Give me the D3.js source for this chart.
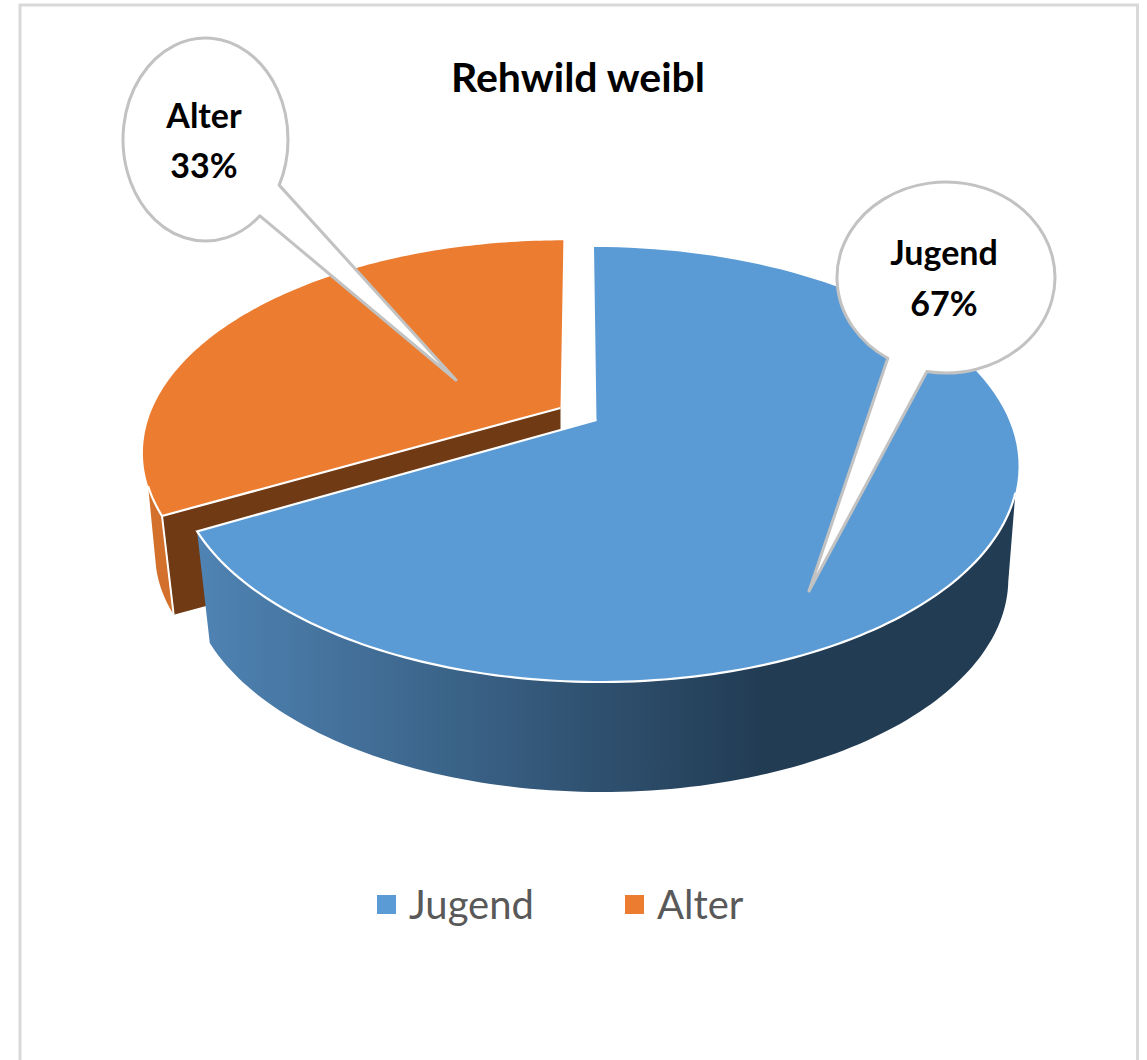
<!DOCTYPE html>
<html><head><meta charset="utf-8">
<script src="https://cdnjs.cloudflare.com/ajax/libs/d3/7.8.5/d3.min.js"></script>
<style>html,body{margin:0;padding:0;background:#fff}svg{display:block}text{font-family:Lato,"Noto Sans",sans-serif}</style>
</head><body><div id="c"></div>
<script>
const categories = ["Jugend", "Alter"];
const values = [67, 33];
const labels = ["67%", "33%"];
const colors = ["#5b9bd5", "#eb7c30"];
const title = "Rehwild weibl";

const W = 1147, H = 1060;
const svg = d3.select("#c").append("svg").attr("width", W).attr("height", H);
const defs = svg.append("defs");
const color = d3.scaleOrdinal().domain(categories).range(colors);

svg.append("path").attr("d", `M20,${H} V5 H1137.5 V${H}`).attr("fill", "none").attr("stroke", "#d9d9d9").attr("stroke-width", 3);

const wallGrad = defs.append("linearGradient").attr("id", "wallBlue").attr("gradientUnits", "userSpaceOnUse")
  .attr("x1", 200).attr("x2", 760).attr("y1", 0).attr("y2", 0);
wallGrad.append("stop").attr("offset", 0).attr("stop-color", "#4f83b3");
wallGrad.append("stop").attr("offset", 1).attr("stop-color", "#223c54");

const arcs = d3.pie().sort(null)(values);
const [jug, alt] = arcs;
const rad = Math.PI / 180;

// perspective projection of the pie's circle
const K = 0.2046;
function projector(cx, cy, A, B, S) {
  return a => {
    const d = 1 + K * Math.cos(a);
    return [cx + (A * Math.sin(a) + S * Math.cos(a)) / d, cy - B * Math.cos(a) / d];
  };
}
const topBlue = projector(596.5, 420, 412.5, 208.4, -3);
const botBlue = projector(598, 533, 401, 206, -3);
const topOrange = projector(560.5, 408, 408, 202, 3.5);
const botOrange = projector(560.5, 510, 396, 196, 3.5);
const apexBlue = [596.5, 420];
const apexOrange = [560.5, 408];
const botApexOrange = [560.5, 510];

const line = d3.line();
const sample = (a0, a1, n = 120) => d3.range(n + 1).map(i => a0 + (a1 - a0) * i / n);
const rim = (p, a0, a1) => sample(a0, a1).map(p);

// orange outer wall
svg.append("path").attr("d", line([...rim(topOrange, alt.startAngle, 249 * rad), ...rim(botOrange, 254 * rad, alt.startAngle)]) + "Z")
  .attr("fill", "#d2702c");
// orange cut face
svg.append("path").attr("d", line([topOrange(alt.startAngle), botOrange(alt.startAngle), botApexOrange, apexOrange]) + "Z")
  .attr("fill", "#6f3a14");
svg.append("path").attr("d", line([topOrange(alt.startAngle), botOrange(alt.startAngle)]))
  .attr("fill", "none").attr("stroke", "#fff").attr("stroke-width", 2);
// orange top
svg.append("path").attr("d", line([apexOrange, ...rim(topOrange, alt.startAngle, alt.endAngle)]) + "Z")
  .attr("fill", color("Alter"));
svg.append("path").attr("d", line([apexOrange, ...rim(topOrange, alt.startAngle, 249 * rad)]))
  .attr("fill", "none").attr("stroke", "#fff").attr("stroke-width", 2.2);

// blue outer wall
svg.append("path").attr("d", line([...rim(topBlue, 109 * rad, jug.endAngle), ...rim(botBlue, jug.endAngle, 103 * rad)]) + "Z")
  .attr("fill", "url(#wallBlue)");
// blue top
svg.append("path").attr("d", line([apexBlue, ...rim(topBlue, jug.startAngle, jug.endAngle)]) + "Z")
  .attr("fill", color("Jugend"));
svg.append("path").attr("d", line([...rim(topBlue, 109 * rad, jug.endAngle), apexBlue]))
  .attr("fill", "none").attr("stroke", "#fff").attr("stroke-width", 2.2);

// title
svg.append("text").attr("x", 578).attr("y", 92).attr("text-anchor", "middle")
  .attr("font-size", 41).attr("font-weight", 700).attr("fill", "#000").text(title);

// callouts
function callout(cx, cy, rx, ry, nearA, tip, nearB) {
  const onEllipse = ([x, y]) => {
    const t = Math.atan2((y - cy) / ry, (x - cx) / rx);
    return [cx + rx * Math.cos(t), cy + ry * Math.sin(t)];
  };
  const a = onEllipse(nearA), b = onEllipse(nearB);
  svg.append("path")
    .attr("d", `M${a} L${tip} L${b} A${rx},${ry} 0 1 1 ${a} Z`)
    .attr("fill", "#fff").attr("stroke", "#c2c2c2").attr("stroke-width", 3).attr("stroke-linejoin", "round");
}
callout(205.5, 139.5, 82.5, 101.5, [279, 185], [456, 380], [260, 216]);
callout(946, 277.5, 109, 95.5, [927, 371], [809, 591], [888, 358]);

function calloutText(x, y1, y2, name, pct) {
  const g = svg.append("g").attr("text-anchor", "middle").attr("font-size", 34).attr("font-weight", 700).attr("fill", "#000");
  g.append("text").attr("x", x).attr("y", y1).text(name);
  g.append("text").attr("x", x).attr("y", y2).text(pct);
}
calloutText(204, 128, 178, categories[1], labels[1]);
calloutText(944, 265, 316, categories[0], labels[0]);

// legend
const legendX = d3.scalePoint().domain(categories).range([377, 625]);
categories.forEach(c => {
  svg.append("rect").attr("x", legendX(c)).attr("y", 895).attr("width", 19).attr("height", 19).attr("fill", color(c));
  svg.append("text").attr("x", legendX(c) + 32).attr("y", 919).attr("font-size", 40).attr("fill", "#595959").text(c);
});
</script></body></html>
